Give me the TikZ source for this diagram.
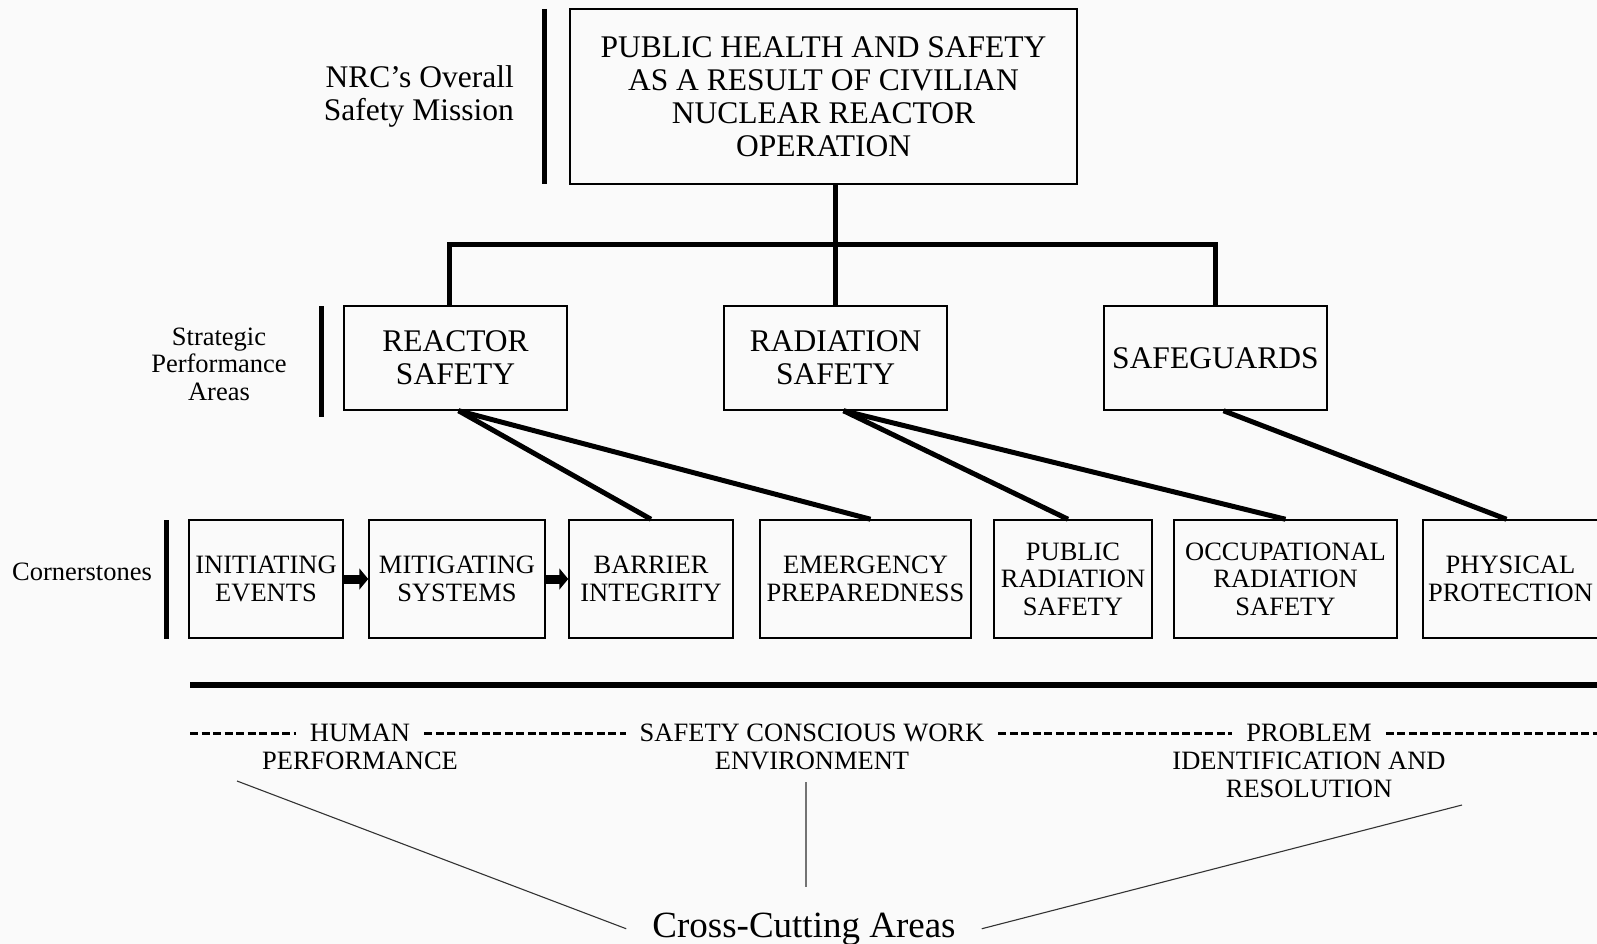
\documentclass[tikz,border=0pt]{standalone}
\usepackage{fontspec}
\setmainfont{Liberation Serif}
\usetikzlibrary{arrows.meta,positioning}
\definecolor{paper}{RGB}{250,250,250}
\newcommand{\bigtext}{\fontsize{31.5}{33}\selectfont}
\newcommand{\smalltext}{\fontsize{26.5}{27.5}\selectfont}
\newcommand{\hugetext}{\fontsize{37}{40}\selectfont}
\tikzset{
  missionbox/.style = {draw=black, line width=1.5pt, align=center,
    inner sep=0pt, font=\bigtext},
  areabox/.style = {missionbox, minimum width=223pt, minimum height=104pt},
  cornerbox/.style = {draw=black, line width=1.5pt, align=center,
    inner sep=0pt, minimum height=118pt, font=\smalltext},% cornerstone
  sidelabel/.style = {inner sep=0pt, align=center},
  sidebar/.style = {line width=5pt},
  trunk/.style = {line width=5pt},
  push/.style = {line width=9pt, -{Triangle[width=21pt,length=9pt]}},
  dashrule/.style = {line width=3pt, dash pattern=on 8pt off 3.5pt},
  crosshead/.style = {font=\smalltext, inner xsep=14pt, inner ysep=2pt},
  crosstext/.style = {font=\smalltext, inner sep=0pt, align=center},
  footline/.style = {line width=1.1pt, black!80}
}

\begin{document}
\begin{tikzpicture}[x=1pt,y=-1pt]
        \fill[paper] (0,0) rectangle (1597,944);
        \useasboundingbox (0,0) rectangle (1597,944);

        % overall mission
        \node [missionbox, minimum width=507pt, minimum height=175pt] (M) at (823.5,96.5)
          {PUBLIC HEALTH AND SAFETY\\AS A RESULT OF CIVILIAN\\NUCLEAR REACTOR\\OPERATION};
        \node [sidelabel, align=right, anchor=east, font=\bigtext] (Mlab) at (514,96)
          {NRC’s Overall\\Safety Mission};
        \draw [sidebar] (544,9) -- (544,184);

        % strategic performance areas
        \node [areabox] (RS) at (455.5,358) {REACTOR\\SAFETY};
        \node [areabox, right=155.5pt of RS] (RD) {RADIATION\\SAFETY};
        \node [areabox, right=155.5pt of RD] (SG) {SAFEGUARDS};
        \node [sidelabel, font=\smalltext] (Slab) at (219,364) {Strategic\\Performance\\Areas};
        \draw [sidebar] (321,306) -- (321,417);

        % cornerstones
        \node [cornerbox, minimum width=154pt] (IE) at (266,579) {INITIATING\\EVENTS};
        \node [cornerbox, minimum width=176pt, right=24.5pt of IE] (MS) {MITIGATING\\SYSTEMS};
        \node [cornerbox, minimum width=164pt, right=22.5pt of MS] (BI) {BARRIER\\INTEGRITY};
        \node [cornerbox, minimum width=211pt, right=25.5pt of BI] (EP) {EMERGENCY\\PREPAREDNESS};
        \node [cornerbox, minimum width=158pt, right=21.5pt of EP] (PR) {PUBLIC\\RADIATION\\SAFETY};
        \node [cornerbox, minimum width=223pt, right=20.5pt of PR] (OR) {OCCUPATIONAL\\RADIATION\\SAFETY};
        \node [cornerbox, minimum width=175pt, right=24.5pt of OR] (PP) {PHYSICAL\\PROTECTION};
        \node [sidelabel, font=\smalltext] (Clab) at (82,572) {Cornerstones};
        \draw [sidebar] (166,520) -- (166,639);

        \coordinate (bus) at (833,244);
        \draw [trunk] (RD.north) -- (RD.north |- M.south);
        \draw [trunk] ([xshift=-6pt]RS.north) |- (bus) -| (SG.north);

        \draw [trunk] ([xshift=3pt]RS.south) -- (BI.north);
        \draw [trunk] ([xshift=3pt]RS.south) -- ([xshift=5pt]EP.north);
        \draw [trunk] ([xshift=8pt]RD.south) -- ([xshift=-5pt]PR.north);
        \draw [trunk] ([xshift=8pt]RD.south) -- (OR.north);
        \draw [trunk] ([xshift=8pt]SG.south) -- ([xshift=-4pt]PP.north);

        \draw [push] (IE.east) -- (MS.west);
        \draw [push] (MS.east) -- (BI.west);

        % cross-cutting areas
        \draw [line width=6pt] (190,685) -- (1597,685);

        \node [crosshead] (HU) at (360,733) {HUMAN};
        \node [crosstext] (HU2) at (360,761) {PERFORMANCE};
        \node [crosshead] (SC) at (812,733) {SAFETY CONSCIOUS WORK};
        \node [crosstext] (SC2) at (812,761) {ENVIRONMENT};
        \node [crosshead] (PI) at (1309,733) {PROBLEM};
        \node [crosstext] (PI2) at (1309,775) {IDENTIFICATION AND\\RESOLUTION};

        \coordinate (dl) at (190,733);
        \coordinate (dr) at (1597,733);
        \draw [dashrule] (dl) -- (HU);
        \draw [dashrule] (HU) -- (SC);
        \draw [dashrule] (SC) -- (PI);
        \draw [dashrule] (PI) -- (dr);

        \node [font=\hugetext, inner xsep=26pt, inner ysep=0pt, anchor=base] (CC) at (804,937)
          {Cross-Cutting Areas};
        \coordinate (HUfoot) at (237,781);
        \coordinate (SCfoot) at (806,782);
        \coordinate (SChead) at (806,887);
        \coordinate (PIfoot) at (1462,805);
        \draw [footline] (HUfoot) -- (CC.west);
        \draw [footline, black!55] (SCfoot) -- (SChead);
        \draw [footline] (PIfoot) -- (CC.east);

        \end{tikzpicture}
\end{document}
